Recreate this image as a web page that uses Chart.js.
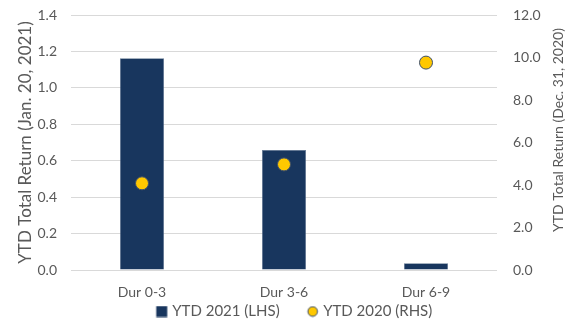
<!DOCTYPE html>
<html>
<head>
<meta charset="utf-8">
<script src="https://cdn.jsdelivr.net/npm/chart.js@4/dist/chart.umd.min.js"></script>
<style>
  html, body { margin: 0; padding: 0; background: #fff; }
  #chart { display: block; }
</style>
</head>
<body>
<canvas id="chart" width="567" height="335"></canvas>
<script>
// values
const categories = ['Dur 0-3', 'Dur 3-6', 'Dur 6-9'];
const ytd2021 = [1.162, 0.659, 0.037];   // left axis, bars
const ytd2020 = [4.08, 4.97, 9.76];      // right axis, points

const leftTitle = 'YTD Total Return (Jan. 20, 2021)';
const rightTitle = 'YTD Total Return (Dec. 31, 2020)';

const gray = '#595959';
const navy = '#18365E';
const gold = '#FFC800';
const family = 'Lato, "Open Sans", sans-serif';

// legend icons: the shape sits near the right end of a wider transparent box,
// which gives the wide gap between the two legend items
const ICON_W = 40;
function legendIcon(kind) {
    const cv = document.createElement('canvas');
    cv.width = ICON_W;
    cv.height = 12;
    const c = cv.getContext('2d');
    const x0 = 26;
    if (kind === 'rect') {
        c.fillStyle = navy;
        c.fillRect(x0 + 0.5, 0.5, 11, 11);
    } else {
        c.beginPath();
        c.arc(x0 + 6, 6, 4.8, 0, Math.PI * 2);
        c.fillStyle = gold;
        c.fill();
        c.lineWidth = 1;
        c.strokeStyle = '#3d4f6b';
        c.stroke();
    }
    return cv;
}

// fixed legend height so the plot area lands where the reference has it
const LEGEND_H = 37;
const fixLegend = {
    id: 'fixLegend',
    beforeLayout(chart) {
        const lg = chart.legend;
        if (lg && !lg._fixed) {
            const fit = lg.fit;
            lg.fit = function () {
                fit.call(this);
                this.height = LEGEND_H;
            };
            lg._fixed = true;
        }
    },
};

// right axis title reads bottom-to-top in the reference, Chart.js turns it the other way
const rightTitlePlugin = {
    id: 'rightTitle',
    afterDraw(chart) {
        const c = chart.ctx;
        c.save();
        c.translate(558, 130);
        c.rotate(-Math.PI / 2);
        c.fillStyle = gray;
        c.font = '14px ' + family;
        c.textAlign = 'center';
        c.textBaseline = 'middle';
        c.fillText(rightTitle, 0, 0);
        c.restore();
    },
};

// vertical axes: fixed width and top padding
function fitY(width) {
    return (s) => {
        s.width = width;
        s.paddingTop = 15;
        s.paddingBottom = 0;
    };
}

const ctx = document.getElementById('chart').getContext('2d');

new Chart(ctx, {
    data: {
        labels: categories,
        datasets: [
            {
                type: 'bar',
                label: 'YTD 2021 (LHS)',
                data: ytd2021,
                yAxisID: 'y',
                backgroundColor: navy,
                borderColor: '#6b7f99',
                borderWidth: 0.5,
                categoryPercentage: 1,
                barPercentage: 0.31,
                order: 2,
            },
            {
                type: 'line',
                label: 'YTD 2020 (RHS)',
                data: ytd2020,
                yAxisID: 'y1',
                showLine: false,
                pointStyle: 'circle',
                pointRadius: 6.5,
                pointBackgroundColor: gold,
                pointBorderColor: '#3d4f6b',
                pointBorderWidth: 1,
                backgroundColor: gold,
                borderColor: '#3d4f6b',
                borderWidth: 1,
                order: 1,
            },
        ],
    },
    options: {
        responsive: false,
        animation: false,
        layout: { autoPadding: false, padding: { left: 0, right: 0, top: 0, bottom: 0 } },
        plugins: {
            tooltip: { enabled: false },
            legend: {
                position: 'bottom',
                labels: {
                    usePointStyle: true,
                    pointStyleWidth: 30,
                    boxHeight: 12,
                    padding: 6,
                    color: gray,
                    font: { family: family, size: 15 },
                    sort: (a, b) => a.datasetIndex - b.datasetIndex,
                    generateLabels(chart) {
                        const items = Chart.defaults.plugins.legend.labels.generateLabels(chart);
                        items.forEach((it) => {
                            it.pointStyle = legendIcon(it.datasetIndex === 0 ? 'rect' : 'circle');
                        });
                        return items;
                    },
                },
            },
        },
        scales: {
            x: {
                grid: { display: false, drawTicks: false },
                border: { display: false },
                ticks: { color: gray, font: { family: family, size: 14 }, padding: 14 },
                afterFit: (s) => { s.height = 28; },
            },
            y: {
                position: 'left',
                min: 0,
                max: 1.4,
                grid: { color: '#d9d9d9', drawTicks: false },
                border: { display: false },
                ticks: {
                    stepSize: 0.2,
                    color: gray,
                    font: { family: family, size: 14 },
                    padding: 14,
                    callback: (v) => v.toFixed(1),
                },
                title: {
                    display: true,
                    text: leftTitle,
                    color: gray,
                    font: { family: family, size: 17 },
                    padding: { top: 15, bottom: 0 },
                },
                afterFit: fitY(71),
            },
            y1: {
                position: 'right',
                min: 0,
                max: 12,
                grid: { display: false, drawTicks: false },
                border: { display: false },
                ticks: {
                    stepSize: 2,
                    color: gray,
                    font: { family: family, size: 14 },
                    padding: 16,
                    callback: (v) => v.toFixed(1),
                },
                afterFit: fitY(70),
            },
        },
    },
    plugins: [fixLegend, rightTitlePlugin],
});
</script>
</body>
</html>
